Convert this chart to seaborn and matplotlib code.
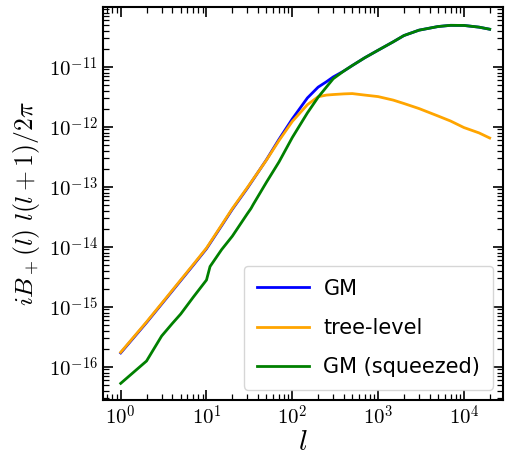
import numpy as np
import pandas as pd
import matplotlib
matplotlib.use("Agg")
import matplotlib.pyplot as plt
from matplotlib.ticker import LogLocator, NullFormatter, FuncFormatter
import seaborn as sns

# multipoles shared by the GM and tree-level curves
ell = [1, 2, 3, 5, 7, 10, 15, 20, 30, 50, 70, 100, 150, 200, 250, 300, 400,
       500, 700, 1000, 1500, 2000, 3000, 5000, 7000, 10000, 15000, 20000]

# integrated bispectrum, GM fitting formula
gm = [1.70e-16, 5.44e-16, 1.107e-15, 2.72e-15, 4.91e-15, 9.27e-15, 2.24e-14,
      4.21e-14, 9.50e-14, 2.82e-13, 6.17e-13, 1.35e-12, 3.02e-12, 4.57e-12,
      5.62e-12, 6.76e-12, 8.51e-12, 1.047e-11, 1.413e-11, 1.884e-11,
      2.60e-11, 3.31e-11, 4.07e-11, 4.68e-11, 4.90e-11, 4.88e-11, 4.57e-11,
      4.22e-11]

# integrated bispectrum, tree-level perturbation theory
tree = [1.74e-16, 5.58e-16, 1.135e-15, 2.79e-15, 5.04e-15, 9.51e-15, 2.30e-14,
        4.32e-14, 9.73e-14, 2.79e-13, 5.89e-13, 1.225e-12, 2.33e-12, 3.16e-12,
        3.37e-12, 3.44e-12, 3.53e-12, 3.57e-12, 3.37e-12, 3.18e-12, 2.78e-12,
        2.44e-12, 2.01e-12, 1.51e-12, 1.245e-12, 9.70e-13, 7.90e-13, 6.49e-13]

# squeezed-limit GM curve
ell_sq = [1, 2, 3, 4, 5, 7, 10, 11, 15, 20, 30, 33, 35, 50, 70, 100, 150, 200,
          250, 300, 400, 500, 700, 1000, 1500, 2000, 3000, 5000, 7000, 10000,
          15000, 20000]
gm_sq = [5.28e-17, 1.245e-16, 3.25e-16, 5.27e-16, 7.55e-16, 1.44e-15, 2.79e-15,
         4.68e-15, 8.95e-15, 1.50e-14, 3.57e-14, 4.34e-14, 5.05e-14, 1.19e-13,
         2.59e-13, 6.61e-13, 1.70e-12, 3.10e-12, 4.59e-12, 6.31e-12, 8.51e-12,
         1.047e-11, 1.413e-11, 1.884e-11, 2.60e-11, 3.31e-11, 4.07e-11,
         4.68e-11, 4.90e-11, 4.88e-11, 4.57e-11, 4.22e-11]

xlim = (0.617, 2.88e4)
ylim = (2.79e-17, 9.9e-11)

plt.rcParams["mathtext.fontset"] = "cm"

fig = plt.figure(figsize=(5.05, 4.55), dpi=100)
ax = fig.add_axes([0.2034, 0.1209, 0.7932, 0.8637])

curves = [
    (ell, gm, "blue", "GM"),
    (ell, tree, "orange", "tree-level"),
    (ell_sq, gm_sq, "green", "GM (squeezed)"),
]
for x, y, c, name in curves:
    df = pd.DataFrame({"l": x, "B": y})
    sns.lineplot(data=df, x="l", y="B", color=c, lw=2, label=name,
                 sort=False, estimator=None, ax=ax)

ax.set_xscale("log")
ax.set_yscale("log")
ax.set_xlim(*xlim)
ax.set_ylim(*ylim)


def decade_formatter(lo, hi):
    def fmt(v, _):
        if v < lo or v > hi:
            return ""
        return r"$10^{%d}$" % int(round(np.log10(v)))
    return FuncFormatter(fmt)


for axis, lims in ((ax.xaxis, xlim), (ax.yaxis, ylim)):
    axis.set_major_locator(LogLocator(base=10, numticks=20))
    axis.set_minor_locator(LogLocator(base=10, subs=np.arange(2, 10), numticks=20))
    axis.set_major_formatter(decade_formatter(*lims))
    axis.set_minor_formatter(NullFormatter())

ax.tick_params(which="both", direction="in", top=True, right=True)
ax.tick_params(which="major", length=7, width=1.2, labelsize=15)
ax.tick_params(which="minor", length=4, width=0.9)
for s in ax.spines.values():
    s.set_linewidth(1.5)

ax.set_xlabel(r"$l$", fontsize=21, labelpad=-1)
ax.set_ylabel(r"$iB_+(l)\ l(l+1)/2\pi$", fontsize=18.5, labelpad=5)

ax.legend(loc="lower right", fontsize=15, labelspacing=0.92, borderpad=0.6,
          handlelength=2.5, handletextpad=0.7)

fig.savefig("out.png", dpi=100)
